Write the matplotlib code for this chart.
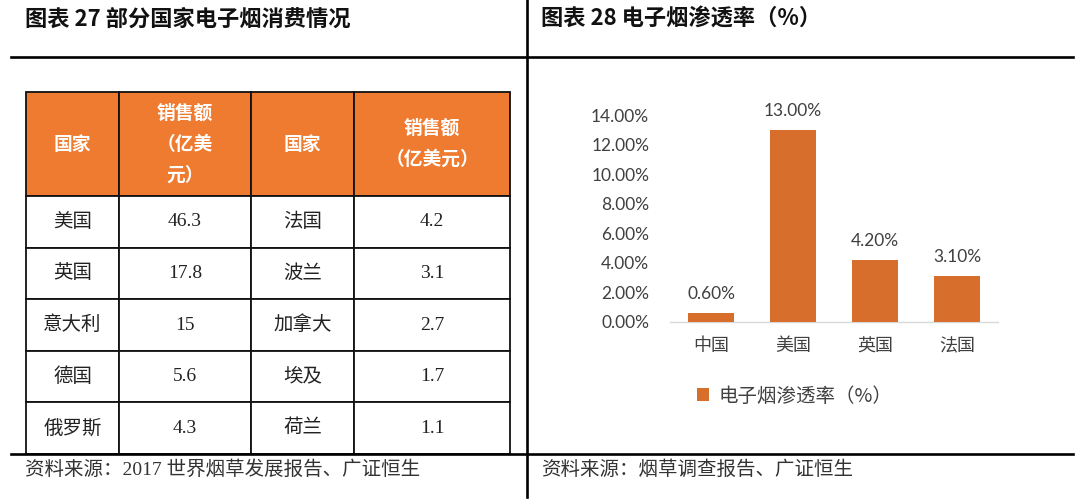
import matplotlib
matplotlib.use("Agg")
import matplotlib.pyplot as plt
from matplotlib.lines import Line2D

# ---------------- data ----------------
table_header = ['国家', '销售额\n（亿美\n元）', '国家', '销售额\n（亿美元）']
countries_a = ['美国', '英国', '意大利', '德国', '俄罗斯']
sales_a = [46.3, 17.8, 15, 5.6, 4.3]
countries_b = ['法国', '波兰', '加拿大', '埃及', '荷兰']
sales_b = [4.2, 3.1, 2.7, 1.7, 1.1]

pen_countries = ['中国', '美国', '英国', '法国']
pen_rates = [0.60, 13.00, 4.20, 3.10]   # percent
pen_ticks = [0, 2, 4, 6, 8, 10, 12, 14]

title_left = '图表 27 部分国家电子烟消费情况'
title_right = '图表 28 电子烟渗透率（%）'
legend_label = '电子烟渗透率（%）'
source_left = '资料来源：2017 世界烟草发展报告、广证恒生'
source_right = '资料来源：烟草调查报告、广证恒生'

# ---------------- figure ----------------
W, H = 1080, 501
fig = plt.figure(figsize=(W / 100, H / 100), dpi=100)
fig.patch.set_facecolor('white')

CJK_SERIF = ['Liberation Serif', 'Noto Sans CJK SC']
CJK_SANS = ['Noto Sans CJK SC', 'DejaVu Sans']


def fx(x):
    return x / W


def fy(y):
    return 1 - y / H


# frame lines
lw_frame = 1.9
fig.add_artist(Line2D([fx(11), fx(1073)], [fy(57), fy(57)], color='black', lw=lw_frame))
fig.add_artist(Line2D([fx(11), fx(1073)], [fy(454), fy(454)], color='black', lw=lw_frame))
fig.add_artist(Line2D([fx(527), fx(527)], [fy(0), fy(497)], color='black', lw=lw_frame))

# titles
fig.text(fx(25), fy(19), title_left, ha='left', va='center', fontsize=16,
         fontweight='bold', family=CJK_SANS, color='#111111')
fig.text(fx(541), fy(19), title_right, ha='left', va='center', fontsize=16,
         fontweight='bold', family=CJK_SANS, color='#111111')

# sources
fig.text(fx(25), fy(470), source_left, ha='left', va='center', fontsize=14,
         family=CJK_SERIF, color='#333333')
fig.text(fx(541), fy(470), source_right, ha='left', va='center', fontsize=14,
         family=CJK_SERIF, color='#333333')

# ---------------- table ----------------
tab_l, tab_r, tab_t, tab_b = 26, 510, 92, 454
ax_t = fig.add_axes([fx(tab_l), fy(tab_b), (tab_r - tab_l) / W, (tab_b - tab_t) / H])
ax_t.axis('off')

cell_text = [[ca, f'{sa:g}', cb, f'{sb:g}']
             for ca, sa, cb, sb in zip(countries_a, sales_a, countries_b, sales_b)]
tbl = ax_t.table(cellText=cell_text, colLabels=table_header, cellLoc='center',
                 bbox=[0, 0, 1, 1])
tbl.auto_set_font_size(False)
col_w = [93, 132, 103, 156]
for (r, c), cell in tbl.get_celld().items():
    cell.set_width(col_w[c])
    cell.set_edgecolor('#111111')
    cell.set_linewidth(1.3)
    txt = cell.get_text()
    if r == 0:
        cell.set_height(2.02)
        cell.set_facecolor('#EE7B30')
        txt.set_color('white')
        txt.set_fontweight('bold')
        txt.set_fontsize(13.5)
        txt.set_linespacing(1.8)
        txt.set_family(CJK_SANS)
    else:
        cell.set_height(1.0)
        cell.set_facecolor('white')
        txt.set_color('#222222')
        txt.set_fontsize(14)
        txt.set_family(CJK_SERIF)

# ---------------- bar chart ----------------
ax_l, ax_r, ax_top, ax_bot = 670, 998, 115, 322
ax = fig.add_axes([fx(ax_l), fy(ax_bot), (ax_r - ax_l) / W, (ax_bot - ax_top) / H])
bar_color = '#D86E2B'
xpos = list(range(len(pen_countries)))
bars = ax.bar(xpos, pen_rates, width=0.56, color=bar_color, label=legend_label, zorder=3)
ax.set_xlim(-0.5, len(pen_countries) - 0.5)
ax.set_ylim(0, 14)
ax.set_yticks(pen_ticks)
ax.set_yticklabels([f'{t:.2f}%' for t in pen_ticks], family='Lato', fontsize=12.5,
                   color='#404040')
ax.set_xticks(xpos)
ax.set_xticklabels(pen_countries, family=CJK_SANS, fontsize=13, color='#404040')
ax.tick_params(axis='y', length=0, pad=15)
ax.tick_params(axis='x', length=0, pad=11)
for s in ['top', 'right', 'left']:
    ax.spines[s].set_visible(False)
ax.spines['bottom'].set_color('#D9D9D9')
ax.spines['bottom'].set_linewidth(1.0)
ax.set_facecolor('none')

for b, v in zip(bars, pen_rates):
    ax.annotate(f'{v:.2f}%', (b.get_x() + b.get_width() / 2, v), xytext=(0, 8),
                textcoords='offset points', ha='center', va='bottom',
                family='Lato', fontsize=12.5, color='#404040')

leg = ax.legend(loc='center left', bbox_to_anchor=(fx(697), fy(396)),
                bbox_transform=fig.transFigure, frameon=False,
                prop={'family': CJK_SANS, 'size': 14},
                handlelength=0.6, handleheight=0.6, handletextpad=0.5,
                borderaxespad=0, borderpad=0)
for t in leg.get_texts():
    t.set_color('#404040')

fig.savefig('out.png', dpi=100, facecolor='white')
